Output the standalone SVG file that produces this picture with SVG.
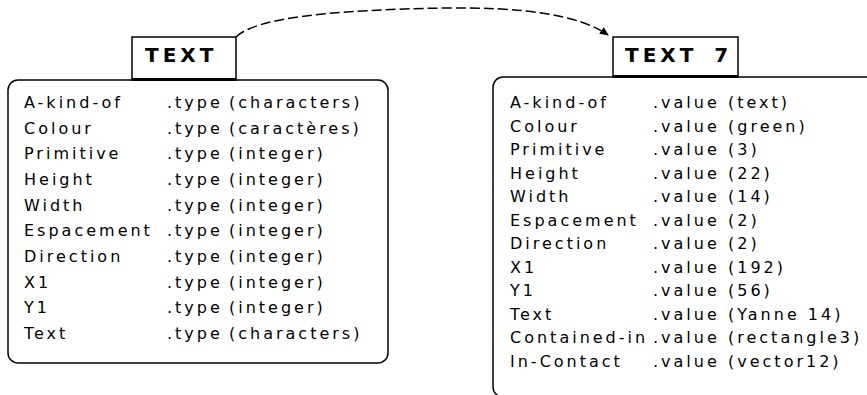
<svg xmlns="http://www.w3.org/2000/svg" width="867" height="395" viewBox="0 0 867 395">
<style>
.box{fill:#fff;stroke:#000;stroke-width:1.5}
.bar{stroke:#000;stroke-width:3}
.ttl{font-family:"DejaVu Sans",sans-serif;font-weight:bold;font-size:20px;letter-spacing:4px;word-spacing:6px;fill:#000}
.t{font-family:"DejaVu Sans",sans-serif;font-size:16px;letter-spacing:3px;fill:#000}
.con{fill:none;stroke:#000;stroke-width:1.5;stroke-dasharray:10 4}
</style>
<defs>
<marker id="ah" markerWidth="10" markerHeight="10" refX="8" refY="5" orient="auto" markerUnits="userSpaceOnUse">
<path d="M0,1 L9,5 L0,9 Z" fill="#000"/>
</marker>
</defs>
<rect width="867" height="395" fill="#fff"/>
<g id="connectors">
<path class="con" d="M236,37 C255,18 330,10 445,8 C520,7 578,14 608,35" marker-end="url(#ah)"/>
</g>
<g id="node-text-class">
<rect class="box" x="8" y="80" width="380" height="283" rx="10"/>
<rect class="box" x="132" y="37" width="104" height="43"/>
<line class="bar" x1="132" y1="79.5" x2="236" y2="79.5"/>
<text class="ttl" x="145" y="62">TEXT</text>
<g class="t">
<text x="24" y="108">A-kind-of</text><text x="167" y="108">.type</text><text x="229" y="108">(characters)</text>
<text x="24" y="133.6">Colour</text><text x="167" y="133.6">.type</text><text x="229" y="133.6">(caractères)</text>
<text x="24" y="159.3">Primitive</text><text x="167" y="159.3">.type</text><text x="229" y="159.3">(integer)</text>
<text x="24" y="185">Height</text><text x="167" y="185">.type</text><text x="229" y="185">(integer)</text>
<text x="24" y="210.6">Width</text><text x="167" y="210.6">.type</text><text x="229" y="210.6">(integer)</text>
<text x="24" y="236.3">Espacement</text><text x="167" y="236.3">.type</text><text x="229" y="236.3">(integer)</text>
<text x="24" y="262">Direction</text><text x="167" y="262">.type</text><text x="229" y="262">(integer)</text>
<text x="24" y="287.6">X1</text><text x="167" y="287.6">.type</text><text x="229" y="287.6">(integer)</text>
<text x="24" y="313.2">Y1</text><text x="167" y="313.2">.type</text><text x="229" y="313.2">(integer)</text>
<text x="24" y="339">Text</text><text x="167" y="339">.type</text><text x="229" y="339">(characters)</text>
</g>
</g>
<g id="node-text-7">
<rect class="box" x="493" y="77" width="390" height="320" rx="10"/>
<rect class="box" x="613" y="37" width="125" height="40"/>
<line class="bar" x1="613" y1="76.5" x2="738" y2="76.5"/>
<text class="ttl" x="625" y="61.5">TEXT 7</text>
<g class="t">
<text x="510" y="108">A-kind-of</text><text x="653" y="108">.value</text><text x="728" y="108">(text)</text>
<text x="510" y="131.5">Colour</text><text x="653" y="131.5">.value</text><text x="728" y="131.5">(green)</text>
<text x="510" y="155">Primitive</text><text x="653" y="155">.value</text><text x="728" y="155">(3)</text>
<text x="510" y="178.5">Height</text><text x="653" y="178.5">.value</text><text x="728" y="178.5">(22)</text>
<text x="510" y="202">Width</text><text x="653" y="202">.value</text><text x="728" y="202">(14)</text>
<text x="510" y="225.5">Espacement</text><text x="653" y="225.5">.value</text><text x="728" y="225.5">(2)</text>
<text x="510" y="249">Direction</text><text x="653" y="249">.value</text><text x="728" y="249">(2)</text>
<text x="510" y="272.5">X1</text><text x="653" y="272.5">.value</text><text x="728" y="272.5">(192)</text>
<text x="510" y="296">Y1</text><text x="653" y="296">.value</text><text x="728" y="296">(56)</text>
<text x="510" y="319.5">Text</text><text x="653" y="319.5">.value</text><text x="728" y="319.5">(Yanne 14)</text>
<text x="510" y="343">Contained-in</text><text x="653" y="343">.value</text><text x="728" y="343">(rectangle3)</text>
<text x="510" y="366.5">In-Contact</text><text x="653" y="366.5">.value</text><text x="728" y="366.5">(vector12)</text>
</g>
</g>
</svg>
